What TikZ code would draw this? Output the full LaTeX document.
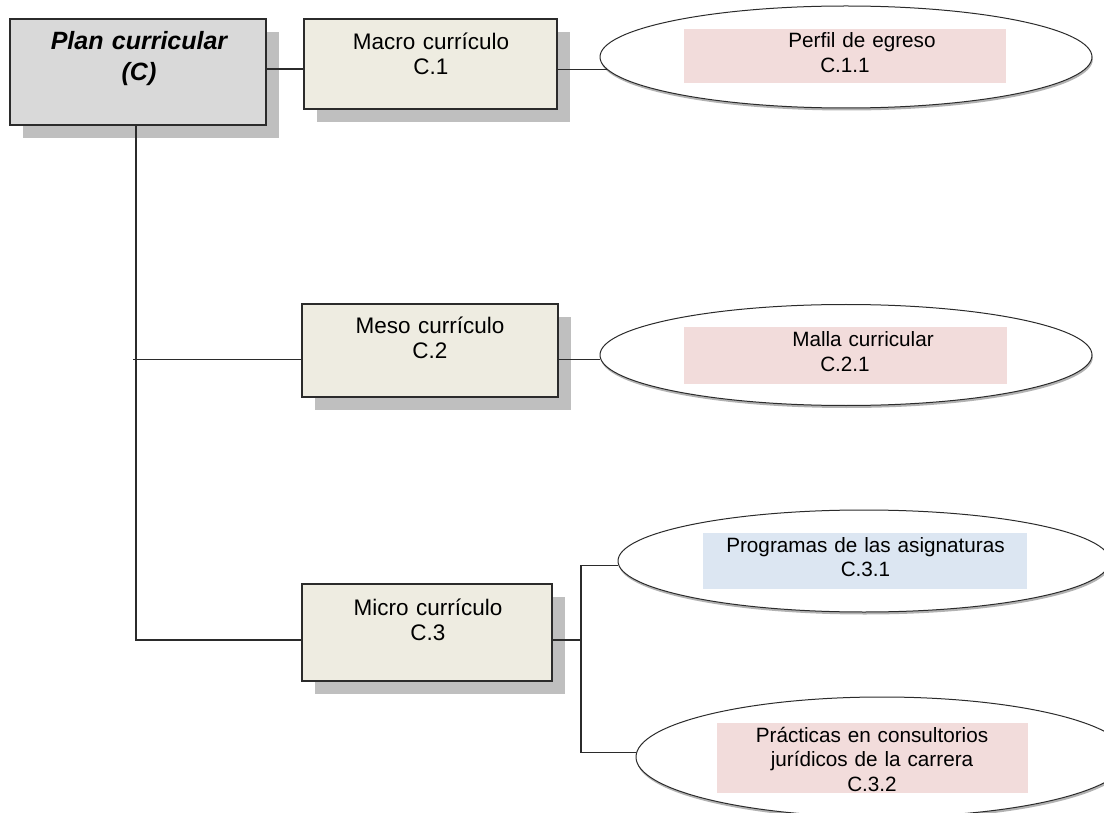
\documentclass[tikz,border=0pt]{standalone}
\usepackage{fontspec}
\setmainfont{Liberation Sans}
\usetikzlibrary{shadows,shapes.geometric}
\definecolor{boxfill}{HTML}{EEECE1}
\definecolor{planfill}{HTML}{D9D9D9}
\definecolor{shade}{HTML}{BFBFBF}
\definecolor{pinkfill}{HTML}{F2DCDB}
\definecolor{bluefill}{HTML}{DCE6F2}
\definecolor{linecol}{HTML}{2B2B2B}
\begin{document}
\begin{tikzpicture}[x=1pt,y=-1pt,
  box/.style={rectangle, draw=linecol, line width=1.4pt, inner sep=0pt, fill=boxfill,
    drop shadow={shadow xshift=13pt, shadow yshift=-13pt, fill=shade, opacity=1}},
  ell/.style={ellipse, draw=linecol, line width=1pt, fill=white, inner sep=0pt,
    minimum width=492pt,
    drop shadow={shadow xshift=0.8pt, shadow yshift=-2.5pt, fill=black!55, opacity=0.55}},
  tag/.style={rectangle, inner sep=0pt, draw=none},
  boxtext/.style={anchor=base, align=center, inner sep=0pt, text width=250pt,
    font=\fontsize{22.5}{25}\selectfont},
  elltext/.style={anchor=base, align=center, inner sep=0pt, text width=330pt,
    font=\fontsize{20.7}{24.5}\selectfont},
  conn/.style={draw=linecol, line width=1.5pt}
]
\useasboundingbox (0,0) rectangle (1104,813);
\clip (0,0) rectangle (1104,813);

% boxes
\node[box, fill=planfill, minimum width=256pt, minimum height=106pt] (plan) at (138,72) {};
\node[box, minimum width=253pt, minimum height=90pt] (macro) at (430.5,64) {};
\node[box, minimum width=256pt, minimum height=93pt] (meso) at (430,350.5) {};
\node[box, minimum width=250pt, minimum height=97pt] (micro) at (427,632.5) {};

\node[boxtext, font=\fontsize{25}{31}\selectfont\bfseries\itshape] (plant) at (139,50) {Plan curricular\\(C)};
\node[boxtext] (macrot) at (431,50) {Macro currículo\\C.1};
\node[boxtext] (mesot) at (430,334) {Meso currículo\\C.2};
\node[boxtext] (microt) at (428,615) {Micro currículo\\C.3};

% ellipses
\node[ell, minimum height=102pt] (ell1) at (846,57) {};
\node[ell, minimum height=101pt] (ell2) at (846,355) {};
\node[ell, minimum height=102pt] (ell3) at (864,561) {};
\node[ell, minimum height=120pt] (ell4) at (882,757) {};

% coloured labels
\node[tag, fill=pinkfill, minimum width=322pt, minimum height=54pt] (r1) at (845,56) {};
\node[tag, fill=pinkfill, minimum width=323pt, minimum height=57pt] (r2) at (845.5,355.5) {};
\node[tag, fill=bluefill, minimum width=324pt, minimum height=56pt] (r3) at (865,561) {};
\node[tag, fill=pinkfill, minimum width=311pt, minimum height=70pt] (r4) at (872.5,758) {};

\node[elltext] (t1) at (845,48) {\kern34pt Perfil de egreso\\C.1.1};
\node[elltext] (t2) at (845,347) {\kern36pt Malla curricular\\C.2.1};
\node[elltext] (t3) at (865.5,552) {Programas de las asignaturas\\C.3.1};
\node[elltext] (t4) at (872,742) {Prácticas en consultorios\\jurídicos de la carrera\\C.3.2};

% connectors
\coordinate (fork) at (581,640);
\draw[conn] ([yshift=3pt]plan.east) -- ([yshift=-5pt]macro.west);
\draw[conn] (macro.east |- ell1.183) -- (ell1.183);
\draw[conn] ([xshift=-2pt]plan.south) |- ([yshift=-7.5pt]micro.west);
\draw[conn] ([xshift=-5pt]plan.south |- ell2.181) -- (meso.west |- ell2.181);
\draw[conn] (meso.east |- ell2.181) -- (ell2.181);
\draw[conn] ([yshift=-7.5pt]micro.east) -- (fork);
\draw[conn] (ell3.181) -| (fork) |- (ell4.179);
\end{tikzpicture}
\end{document}
